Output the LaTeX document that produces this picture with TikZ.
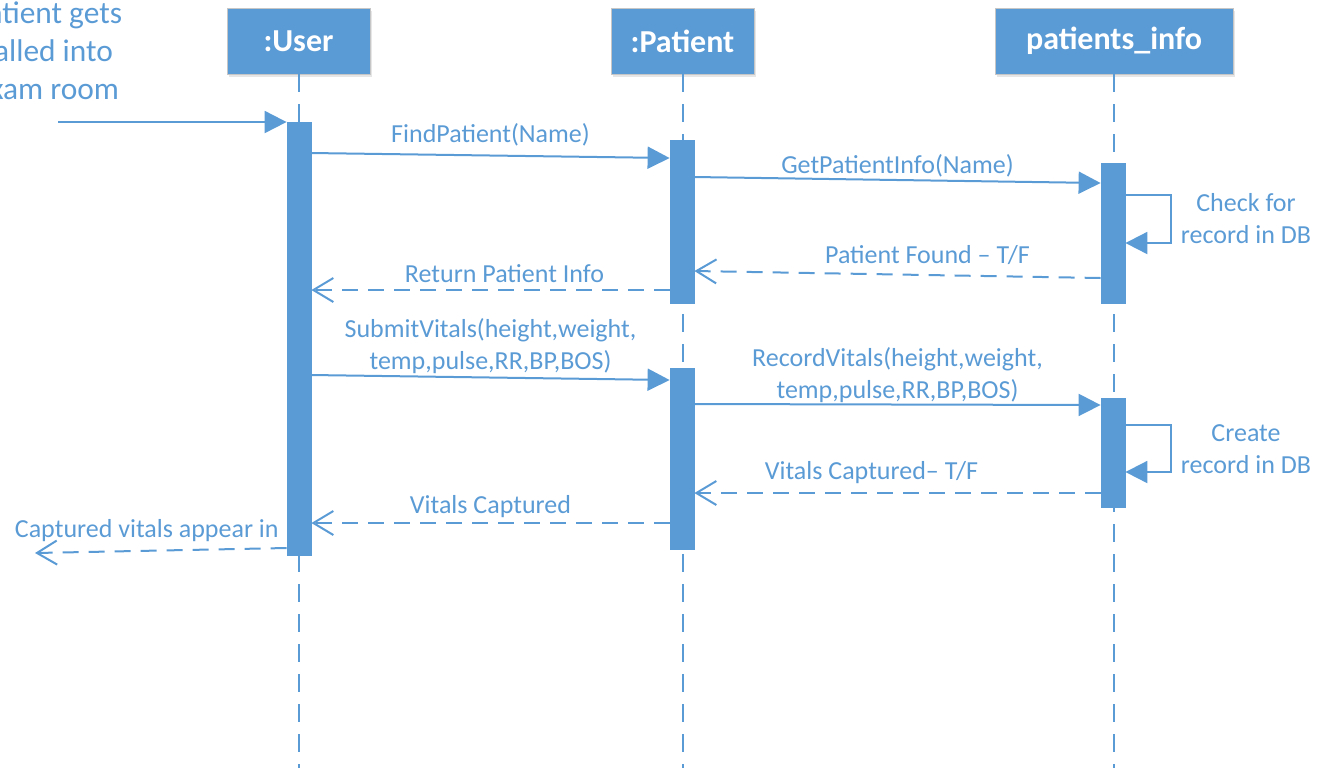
\documentclass[tikz,border=0pt]{standalone}
\usepackage{fontspec}
\setmainfont{Carlito}
\usetikzlibrary{arrows.meta,shadows}
\definecolor{umlblue}{HTML}{5B9BD5}

\begin{document}
\begin{tikzpicture}[
    x=0.5pt, y=-0.5pt,
    font=\fontsize{13}{16}\selectfont,
    every node/.style={text=umlblue},
    actor/.style={rectangle, draw=gray!45, fill=umlblue, text=white, font=\fontsize{16}{19}\selectfont\bfseries,
        minimum width=71.5pt, minimum height=33pt,
        drop shadow={shadow xshift=1pt, shadow yshift=-1.5pt, opacity=0.2, fill=gray}},
    bar/.style={rectangle, draw=umlblue, fill=umlblue, minimum width=12pt, inner sep=0pt, anchor=north},
    lifeline/.style={umlblue, line width=1pt, dash pattern=on 9pt off 6pt},
    call/.style={-{Triangle[length=11pt,width=11pt]}, umlblue, line width=1pt},
    reply/.style={-{Straight Barb[length=10pt,width=12pt]}, umlblue, line width=1pt, dash pattern=on 8pt off 5pt},
    msg/.style={above=1pt, midway, align=center}
]
    \useasboundingbox (0,0) rectangle (1317,768);
    \clip (0,0) rectangle (1317,768);

    % objects
    \node[actor] (user) at (298.5,41) {:User};
    \node[actor] (patient) at (682.5,41) {:Patient};
    \node[actor, minimum width=119pt] (info) at (1114,41) {patients\_info};

    % lifelines
    \draw[lifeline] (user.south) -- (user.south |- 0,768);
    \draw[lifeline] (patient.south) -- (patient.south |- 0,768);
    \draw[lifeline] (info.south) -- (info.south |- 0,768);

    % activations
    \node[bar, minimum height=216.5pt] (userbar) at (299,122) {};
    \node[bar, minimum height=81.5pt] (patbarA) at (682,140) {};
    \node[bar, minimum height=90.5pt] (patbarB) at (682,368) {};
    \node[bar, minimum height=70pt] (infobarA) at (1113,163) {};
    \node[bar, minimum height=54.5pt] (infobarB) at (1113,398) {};

    % entry and exit
    \node[align=center, font=\fontsize{15.7}{19}\selectfont] (arrive) at (47,51) {Patient gets\\called into\\exam room};
    \coordinate (start) at (58,122);
    \coordinate (leave) at (35,553);
    \draw[call] (start) -- (userbar.north west);

    % lookup
    \draw[call] (userbar.east |- 0,153) -- (patbarA.west |- 0,158) node[msg, above=0pt] {FindPatient(Name)};
    \draw[call] (patbarA.east |- 0,177) -- (infobarA.west |- 0,183) node[msg, above=-3.5pt] {GetPatientInfo(Name)};
    \draw[call] (infobarA.east |- 0,195) -- ++(46,0) -- ++(0,48) -- (infobarA.east |- 0,243);
    \node[align=center] (checknote) at (1246,219) {Check for\\record in DB};
    \draw[reply] (infobarA.west |- 0,278) -- (patbarA.east |- 0,271) node[msg, xshift=15pt] {Patient Found -- T/F};
    \draw[reply] (patbarA.west |- 0,290) -- (userbar.east |- 0,290) node[msg, above=-1pt, xshift=7pt] {Return Patient Info};

    % vitals
    \draw[call] (userbar.east |- 0,375) -- (patbarB.west |- 0,380) node[msg, above=-3pt] {SubmitVitals(height,weight,\\temp,pulse,RR,BP,BOS)};
    \draw[call] (patbarB.east |- 0,404) -- (infobarB.west |- 0,405) node[msg, above=-4pt] {RecordVitals(height,weight,\\temp,pulse,RR,BP,BOS)};
    \draw[call] (infobarB.east |- 0,425) -- ++(46,0) -- ++(0,47) -- (infobarB.east |- 0,472);
    \node[align=center] (createnote) at (1246,449) {Create\\record in DB};
    \draw[reply] (infobarB.west |- 0,493) -- (patbarB.east |- 0,493) node[msg, xshift=-13pt] {Vitals Captured-- T/F};
    \draw[reply] (patbarB.west |- 0,523) -- (userbar.east |- 0,523) node[msg, above=-2pt] {Vitals Captured};
    \draw[reply] (userbar.west |- 0,548) -- (leave) node[msg, above=-0.5pt, xshift=-7pt] {Captured vitals appear in};
\end{tikzpicture}
\end{document}
